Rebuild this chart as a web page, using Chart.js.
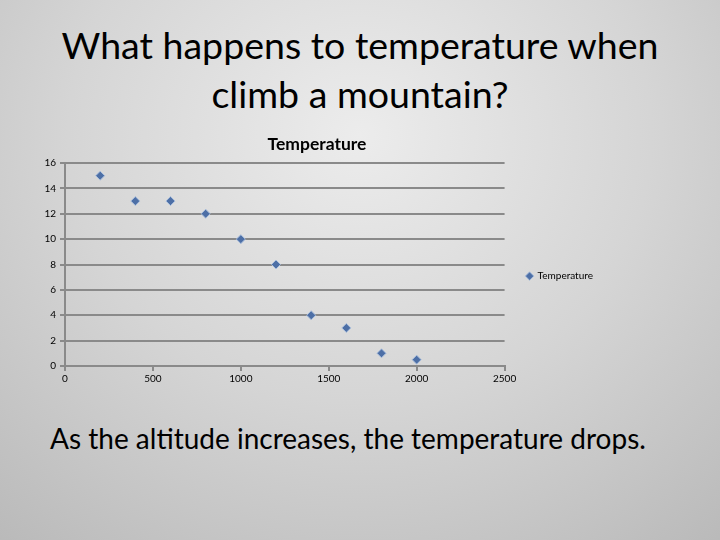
<!DOCTYPE html>
<html>
<head>
<meta charset="utf-8">
<script src="https://cdn.jsdelivr.net/npm/chart.js@4"></script>
<style>
  html, body { margin: 0; padding: 0; }
  body {
    width: 720px; height: 540px; overflow: hidden; position: relative;
    background: radial-gradient(ellipse 90% 110% at 50% 25%, #ececec 0%, #d5d5d5 45%, #b2b2b2 100%);
    font-family: Lato, 'Open Sans', sans-serif; color: #000;
  }
  .title {
    position: absolute; left: 0; top: 20px; width: 720px;
    text-align: center; font-size: 37.5px; line-height: 49px;
  }
  .note {
    position: absolute; left: 50px; top: 421px; font-size: 28px; white-space: nowrap;
  }
  .wrap { position: absolute; left: 31px; top: 130px; width: 588px; height: 257px; }
</style>
</head>
<body>
<div class="title">What happens to temperature when<br>climb a mountain?</div>
<div class="wrap"><canvas id="tempChart"></canvas></div>
<div class="note">As the altitude increases, the temperature drops.</div>

<script>
// altitude (x) vs temperature (y)
const altitudes = [200, 400, 600, 800, 1000, 1200, 1400, 1600, 1800, 2000]
const temperatures = [15, 13, 13, 12, 10, 8, 4, 3, 1, 0.5]
const seriesName = 'Temperature'

const gridGray = '#8a8a8a'
const tickFont = { family: 'Lato', size: 10 }

const points = altitudes.map((a, i) => ({ x: a, y: temperatures[i] }))

new Chart(document.getElementById('tempChart'), {
  type: 'scatter',
  data: {
    datasets: [{
      label: seriesName,
      data: points,
      pointStyle: 'rectRot',
      pointRadius: 4.5,
      pointBackgroundColor: '#4d6fa6',
      pointBorderColor: '#a8bddb',
      pointBorderWidth: 1
    }]
  },
  options: {
    responsive: true,
    maintainAspectRatio: false,
    animation: false,
    layout: { padding: { left: 0, right: 16, top: 0, bottom: 0 } },
    plugins: {
      title: {
        display: true,
        text: 'Temperature',
        color: '#000',
        font: { family: 'Lato', size: 17.5, weight: 'bold' },
        padding: { top: 4, bottom: 8 }
      },
      legend: {
        position: 'right',
        // empty legend title only nudges the entry down a bit
        title: { display: true, text: '', font: { size: 1 }, padding: 17 },
        labels: {
          usePointStyle: true,
          pointStyle: 'rectRot',
          boxWidth: 6,
          boxHeight: 6,
          color: '#000',
          font: { family: 'Lato', size: 10 },
          padding: 22
        }
      },
      tooltip: { enabled: false }
    },
    scales: {
      x: {
        type: 'linear',
        min: 0,
        max: 2500,
        ticks: { stepSize: 500, color: '#000', font: tickFont, padding: 2, maxRotation: 0, callback: (v) => String(v) },
        grid: { display: true, drawOnChartArea: false, drawTicks: true, tickLength: 5, color: gridGray, lineWidth: 2 },
        border: { display: true, color: gridGray, width: 2 }
      },
      y: {
        min: 0,
        max: 16,
        afterFit: (scale) => { scale.width = 34 },
        ticks: { stepSize: 2, color: '#000', font: tickFont, padding: 4 },
        grid: { color: gridGray, lineWidth: 2, drawTicks: true, tickLength: 5 },
        border: { display: true, color: gridGray, width: 2 }
      }
    }
  }
})
</script>
</body>
</html>
